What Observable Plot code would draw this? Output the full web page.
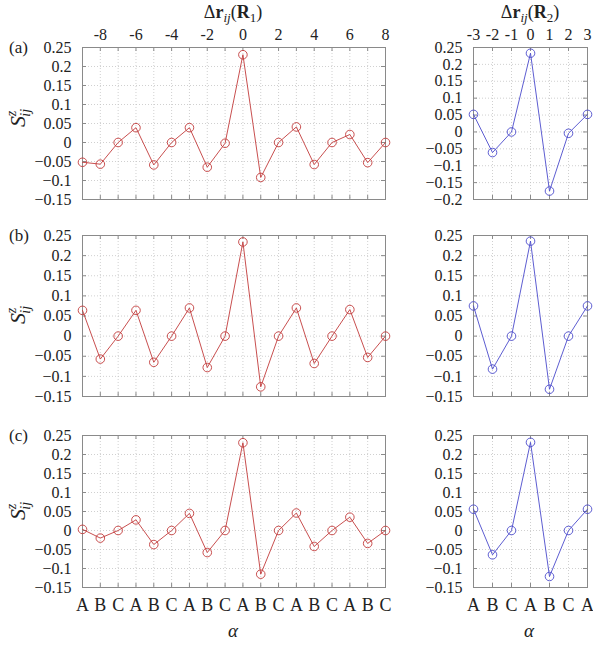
<!DOCTYPE html>
<html>
<head>
<meta charset="utf-8">
<script src="https://cdn.jsdelivr.net/npm/d3@7"></script>
<script src="https://cdn.jsdelivr.net/npm/@observablehq/plot@0.6"></script>
<style>
  html, body { margin: 0; padding: 0; background: #fff; }
  #chart { position: relative; width: 593px; height: 647px; overflow: hidden; }
  #chart svg { position: absolute; overflow: visible; font-family: "Liberation Serif", "DejaVu Serif", serif !important; }
</style>
</head>
<body>
<div id="chart"></div>
<script>
// ---------- data ----------
const xLeft = [-9, -8, -7, -6, -5, -4, -3, -2, -1, 0, 1, 2, 3, 4, 5, 6, 7, 8];
const xRight = [-3, -2, -1, 0, 1, 2, 3];
const siteLeft = ["A","B","C","A","B","C","A","B","C","A","B","C","A","B","C","A","B","C"];
const siteRight = ["A","B","C","A","B","C","A"];
const topTicksLeft = [-8, -6, -4, -2, 0, 2, 4, 6, 8];
const topTicksRight = [-3, -2, -1, 0, 1, 2, 3];
const yTicksA_right = [-0.2, -0.15, -0.1, -0.05, 0, 0.05, 0.1, 0.15, 0.2, 0.25];
const yTicks = [-0.15, -0.1, -0.05, 0, 0.05, 0.1, 0.15, 0.2, 0.25];

const aLeft  = [-0.052, -0.057, 0.0, 0.039, -0.059, 0.0, 0.039, -0.065, -0.002, 0.231, -0.092, 0.0, 0.041, -0.058, 0.0, 0.021, -0.053, 0.0];
const aRight = [0.052, -0.061, 0.0, 0.233, -0.175, -0.004, 0.052];
const bLeft  = [0.064, -0.057, 0.0, 0.064, -0.065, 0.0, 0.070, -0.078, 0.0, 0.234, -0.126, 0.0, 0.070, -0.068, 0.0, 0.066, -0.053, 0.0];
const bRight = [0.075, -0.082, 0.0, 0.236, -0.132, 0.0, 0.075];
const cLeft  = [0.003, -0.020, 0.0, 0.028, -0.037, 0.0, 0.045, -0.058, 0.0, 0.231, -0.115, 0.0, 0.046, -0.042, 0.0, 0.035, -0.034, 0.0];
const cRight = [0.056, -0.064, 0.0, 0.232, -0.121, 0.0, 0.056];

const RED = "#c23b3b";
const BLUE = "#4b4bcc";
const FRAME = "#8a8a8a";
const GRID = "#c4c4c4";
const FONT = "Liberation Serif, DejaVu Serif, serif";

const chart = document.getElementById("chart");

function fmtY(v) {
  const r = Math.round(v * 100) / 100;
  if (r === 0) return "0";
  return (r < 0 ? "\u2212" : "") + String(Math.abs(r));
}

function panel(cfg) {
  const { xs, ys, yDomain, yTickVals, color, left, top, width, height, mt, mb, ml, mr,
          topTicks, bottomLabels } = cfg;
  const data = xs.map((x, i) => ({ x, y: ys[i] }));
  const xDomain = [xs[0], xs[xs.length - 1]];
  const pw = width - ml - mr;
  const ph = height - mt - mb;
  const marks = [
    Plot.gridX(xs.slice(1, -1), { x: d => d, stroke: GRID, strokeOpacity: 1, strokeDasharray: "1,2", strokeWidth: 0.8 }),
    Plot.gridY(yTickVals.slice(1, -1), { y: d => d, stroke: GRID, strokeOpacity: 1, strokeDasharray: "1,2", strokeWidth: 0.8 }),
    // inward ticks
    Plot.tickX(xs, { x: d => d, stroke: FRAME, insetTop: ph - 4 }),
    Plot.tickX(xs, { x: d => d, stroke: FRAME, insetBottom: ph - 4 }),
    Plot.tickY(yTickVals, { y: d => d, stroke: FRAME, insetRight: pw - 4 }),
    Plot.tickY(yTickVals, { y: d => d, stroke: FRAME, insetLeft: pw - 4 }),
    Plot.frame({ stroke: FRAME, strokeWidth: 1 }),
    Plot.axisY(yTickVals, { y: d => d, anchor: "left", label: null, tickSize: 0, tickPadding: 11, tickFormat: fmtY, fontSize: 16, fontFamily: FONT, fill: "#222" }),
    Plot.line(data, { x: "x", y: "y", stroke: color, strokeWidth: 0.9 }),
    Plot.dot(data, { x: "x", y: "y", r: 4.3, stroke: color, fill: "none", strokeWidth: 0.9 })
  ];
  if (topTicks) {
    marks.push(Plot.axisX(topTicks, { x: d => d, anchor: "top", label: null, tickSize: 0, tickPadding: 8, tickFormat: d => String(d), fontSize: 16, fontFamily: FONT, fill: "#222" }));
  }
  if (bottomLabels) {
    const lab = new Map(xs.map((x, i) => [x, bottomLabels[i]]));
    marks.push(Plot.axisX(xs, { x: d => d, anchor: "bottom", label: null, tickSize: 0, tickPadding: 11, tickFormat: d => lab.get(d), fontSize: 18, fontFamily: FONT, fill: "#222" }));
  }
  const svg = Plot.plot({
    width, height,
    marginTop: mt, marginBottom: mb, marginLeft: ml, marginRight: mr,
    x: { domain: xDomain, axis: null },
    y: { domain: yDomain, axis: null },
    style: { fontFamily: FONT, fontSize: "16px", color: "#222", background: "transparent", overflow: "visible" },
    marks
  });
  svg.style.left = left + "px";
  svg.style.top = top + "px";
  chart.appendChild(svg);
  return svg;
}

// geometry
const L = { left: 0, width: 400, ml: 82, mr: 15 };
const R = { left: 400, width: 193, ml: 73, mr: 6 };
const rows = [
  { top: 0, height: 215, mt: 47, mb: 16 },
  { top: 215, height: 200, mt: 20, mb: 19 },
  { top: 415, height: 232, mt: 20, mb: 60 }
];

const full = [-0.15, 0.25];
panel({ ...L, ...rows[0], xs: xLeft, ys: aLeft, yDomain: full, yTickVals: yTicks, color: RED, topTicks: topTicksLeft });
panel({ ...R, ...rows[0], xs: xRight, ys: aRight, yDomain: [-0.2, 0.25], yTickVals: yTicksA_right, color: BLUE, topTicks: topTicksRight });
panel({ ...L, ...rows[1], xs: xLeft, ys: bLeft, yDomain: full, yTickVals: yTicks, color: RED });
panel({ ...R, ...rows[1], xs: xRight, ys: bRight, yDomain: full, yTickVals: yTicks, color: BLUE });
panel({ ...L, ...rows[2], xs: xLeft, ys: cLeft, yDomain: full, yTickVals: yTicks, color: RED, bottomLabels: siteLeft });
panel({ ...R, ...rows[2], xs: xRight, ys: cRight, yDomain: full, yTickVals: yTicks, color: BLUE, bottomLabels: siteRight });

// ---------- annotation text overlay ----------
const ov = d3.select(chart).append("svg")
  .attr("width", 593).attr("height", 647)
  .style("left", "0px").style("top", "0px")
  .attr("font-family", FONT).attr("fill", "#222");

function title(x, sub) {
  const t = ov.append("text").attr("x", x).attr("y", 18).attr("text-anchor", "middle").attr("font-size", 18);
  t.append("tspan").text("\u0394");
  t.append("tspan").attr("font-weight", "bold").text("r");
  t.append("tspan").attr("font-style", "italic").attr("font-size", 13).attr("dy", 4).text("ij");
  t.append("tspan").attr("dy", -4).text("(");
  t.append("tspan").attr("font-weight", "bold").text("R");
  t.append("tspan").attr("font-size", 13).attr("dy", 4).text(sub);
  t.append("tspan").attr("dy", -4).text(")");
}
title(233, "1");
title(530, "2");

const rowMid = [118, 315, 511];
const rowTop = [47, 235, 435];
const labels = ["(a)", "(b)", "(c)"];
rowMid.forEach((m, i) => {
  const t = ov.append("text").attr("transform", `translate(25,${m}) rotate(-90)`).attr("text-anchor", "middle").attr("font-size", 22);
  t.append("tspan").attr("font-style", "italic").text("S");
  t.append("tspan").attr("font-style", "italic").attr("font-size", 14).attr("dy", -9).text("z");
  t.append("tspan").attr("font-style", "italic").attr("font-size", 14).attr("dx", -6).attr("dy", 14).text("ij");
  ov.append("text").attr("x", 9).attr("y", rowTop[i] + 6).attr("font-size", 17).text(labels[i]);
});

[233, 529].forEach(x => {
  ov.append("text").attr("x", x).attr("y", 637).attr("text-anchor", "middle")
    .attr("font-size", 19).attr("font-style", "italic").text("\u03b1");
});
</script>
</body>
</html>
